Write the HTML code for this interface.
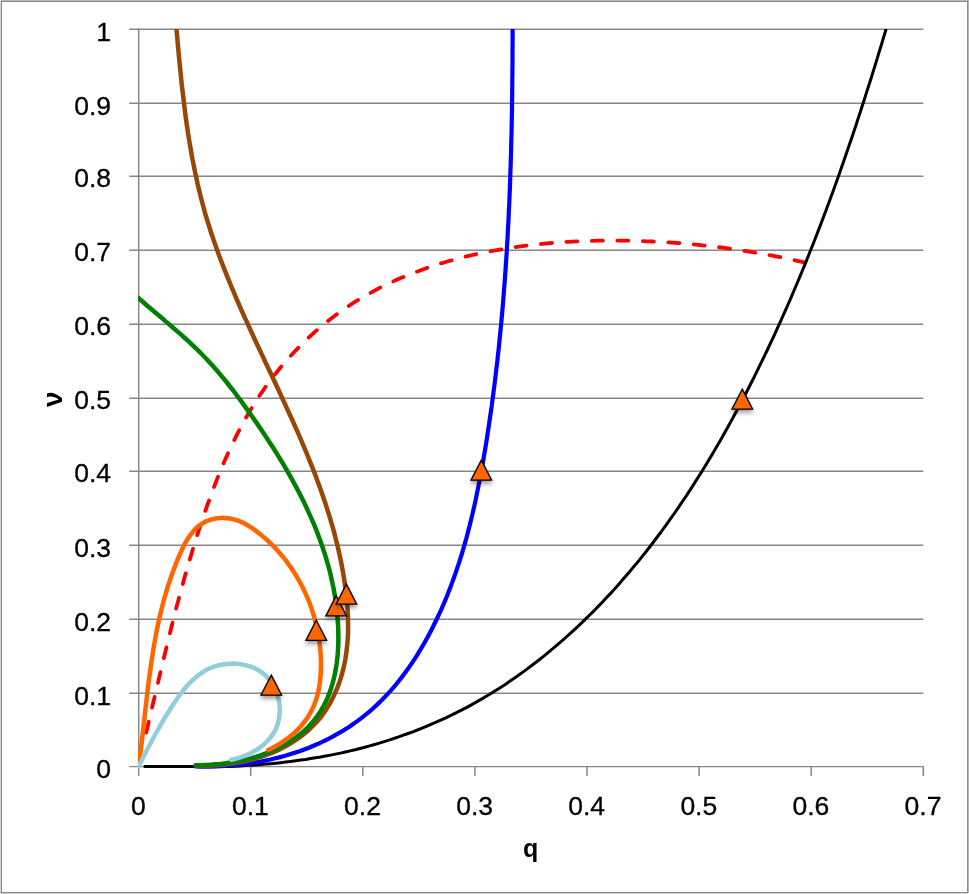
<!DOCTYPE html>
<html lang="en"><head><meta charset="utf-8"><title>q vs ν chart</title>
<style>html,body{margin:0;padding:0;background:#fff}svg{display:block}text{font-family:"Liberation Sans",sans-serif;fill:#000}</style></head><body>
<svg width="969" height="894" viewBox="0 0 969 894">
<defs><filter id="sh" x="-50%" y="-50%" width="200%" height="200%"><feGaussianBlur in="SourceAlpha" stdDeviation="2.2"/><feOffset dx="0" dy="3"/><feComponentTransfer><feFuncA type="linear" slope="0.38"/></feComponentTransfer><feMerge><feMergeNode/><feMergeNode in="SourceGraphic"/></feMerge></filter></defs>
<rect x="0" y="0" width="969" height="894" fill="#fff"/>
<g shape-rendering="crispEdges">
<rect x="1" y="0" width="967" height="1" fill="#b8b8b8"/><rect x="1" y="1" width="967" height="1" fill="#8a8a8a"/>
<rect x="0" y="1" width="1" height="892" fill="#d4d4d4"/><rect x="1" y="1" width="1" height="892" fill="#878787"/>
<rect x="967" y="1" width="1" height="892" fill="#8c8c8c"/><rect x="968" y="0" width="1" height="893" fill="#b4b4b4"/>
<rect x="1" y="892" width="967" height="1" fill="#888888"/><rect x="0" y="893" width="968" height="1" fill="#d0d0d0"/>
</g>
<line x1="129.2" x2="923.3" y1="693.25" y2="693.25" stroke="#878787" stroke-width="1.5"/>
<line x1="129.2" x2="923.3" y1="619.25" y2="619.25" stroke="#878787" stroke-width="1.5"/>
<line x1="129.2" x2="923.3" y1="545.25" y2="545.25" stroke="#878787" stroke-width="1.5"/>
<line x1="129.2" x2="923.3" y1="471.25" y2="471.25" stroke="#878787" stroke-width="1.5"/>
<line x1="129.2" x2="923.3" y1="398.25" y2="398.25" stroke="#878787" stroke-width="1.5"/>
<line x1="129.2" x2="923.3" y1="324.25" y2="324.25" stroke="#878787" stroke-width="1.5"/>
<line x1="129.2" x2="923.3" y1="250.25" y2="250.25" stroke="#878787" stroke-width="1.5"/>
<line x1="129.2" x2="923.3" y1="176.25" y2="176.25" stroke="#878787" stroke-width="1.5"/>
<line x1="129.2" x2="923.3" y1="103.25" y2="103.25" stroke="#878787" stroke-width="1.5"/>
<line x1="129.2" x2="923.3" y1="29.25" y2="29.25" stroke="#878787" stroke-width="1.5"/>
<line x1="129.2" x2="923.9" y1="766.60" y2="766.60" stroke="#878787" stroke-width="1.3"/>
<line x1="138.7" x2="138.7" y1="28.50" y2="776.10" stroke="#878787" stroke-width="1.5"/>
<line x1="250.7" x2="250.7" y1="766.60" y2="776.10" stroke="#878787" stroke-width="1.5"/>
<line x1="362.8" x2="362.8" y1="766.60" y2="776.10" stroke="#878787" stroke-width="1.5"/>
<line x1="474.9" x2="474.9" y1="766.60" y2="776.10" stroke="#878787" stroke-width="1.5"/>
<line x1="587.0" x2="587.0" y1="766.60" y2="776.10" stroke="#878787" stroke-width="1.5"/>
<line x1="699.1" x2="699.1" y1="766.60" y2="776.10" stroke="#878787" stroke-width="1.5"/>
<line x1="811.2" x2="811.2" y1="766.60" y2="776.10" stroke="#878787" stroke-width="1.5"/>
<line x1="923.3" x2="923.3" y1="766.60" y2="776.10" stroke="#878787" stroke-width="1.5"/>
<clipPath id="plot"><rect x="137.9" y="29" width="800" height="741"/></clipPath>
<g clip-path="url(#plot)">
<path d="M146.2 732.5 L147.4 727.6 L148.5 722.7 L149.7 717.8 L150.8 712.9 L152.0 708.0 L153.1 703.1 L154.3 698.2 L155.4 693.3 L156.6 688.4 L157.8 683.5 L158.9 678.6 L160.1 673.7 L161.2 668.8 L162.4 663.9 L163.6 659.0 L164.8 654.1 L166.0 649.3 L167.1 644.4 L168.3 639.5 L169.6 634.6 L170.8 629.7 L172.0 624.8 L173.2 619.9 L174.5 615.1 L175.7 610.2 L177.0 605.3 L178.3 600.5 L179.6 595.6 L180.9 590.7 L182.2 585.9 L183.6 581.0 L184.9 576.2 L186.3 571.4 L187.7 566.5 L189.1 561.7 L190.6 556.9 L192.0 552.0 L193.5 547.2 L195.0 542.4 L196.5 537.6 L198.0 532.8 L199.6 528.0 L201.1 523.3 L202.7 518.5 L204.3 513.7 L206.0 509.0 L207.7 504.2 L209.4 499.5 L211.1 494.8 L212.9 490.0 L214.7 485.3 L216.5 480.6 L218.3 476.0 L220.2 471.3 L222.2 466.7 L224.1 462.0 L226.2 457.4 L228.2 452.8 L230.3 448.3 L232.5 443.7 L234.7 439.2 L236.9 434.7 L239.2 430.2 L241.6 425.8 L244.0 421.3 L246.4 416.9 L249.0 412.6 L251.5 408.3 L254.2 404.0 L256.9 399.7 L259.6 395.5 L262.5 391.4 L265.3 387.2 L268.3 383.1 L271.3 379.1 L274.3 375.1 L277.5 371.2 L280.7 367.3 L283.9 363.4 L287.2 359.6 L290.6 355.9 L294.0 352.2 L297.5 348.6 L301.0 345.0 L304.6 341.5 L308.2 338.0 L311.9 334.6 L315.7 331.2 L319.5 327.9 L323.4 324.7 L327.3 321.5 L331.2 318.4 L335.2 315.4 L339.3 312.4 L343.4 309.5 L347.6 306.7 L351.8 303.9 L356.0 301.2 L360.3 298.6 L364.7 296.1 L369.1 293.6 L373.5 291.2 L377.9 288.8 L382.4 286.5 L386.9 284.3 L391.5 282.2 L396.1 280.1 L400.7 278.1 L405.3 276.2 L410.0 274.3 L414.7 272.5 L419.4 270.7 L424.1 269.0 L428.9 267.3 L433.7 265.8 L438.5 264.2 L443.3 262.7 L448.1 261.3 L452.9 260.0 L457.8 258.7 L462.7 257.4 L467.6 256.2 L472.5 255.0 L477.4 253.9 L482.3 252.9 L487.2 251.9 L492.2 250.9 L497.1 250.0 L502.1 249.2 L507.0 248.4 L512.0 247.6 L517.0 246.9 L522.0 246.2 L527.0 245.6 L532.0 245.0 L537.0 244.4 L542.0 243.9 L547.0 243.4 L552.0 243.0 L557.0 242.6 L562.1 242.2 L567.1 241.9 L572.1 241.6 L577.1 241.4 L582.2 241.2 L587.2 241.0 L592.2 240.9 L597.2 240.7 L602.3 240.7 L607.3 240.6 L612.3 240.6 L617.4 240.6 L622.4 240.6 L627.4 240.7 L632.5 240.8 L637.5 240.9 L642.5 241.1 L647.6 241.3 L652.6 241.5 L657.6 241.7 L662.6 242.0 L667.7 242.3 L672.7 242.7 L677.7 243.0 L682.7 243.4 L687.7 243.9 L692.7 244.3 L697.8 244.8 L702.8 245.3 L707.8 245.9 L712.8 246.5 L717.8 247.1 L722.8 247.7 L727.7 248.4 L732.7 249.1 L737.7 249.8 L742.7 250.6 L747.7 251.4 L752.6 252.2 L757.6 253.0 L762.5 253.9 L767.5 254.8 L772.4 255.7 L777.4 256.7 L782.3 257.6 L787.2 258.7 L792.2 259.7 L797.1 260.8 L802.0 261.9 L806.9 263.0" fill="none" stroke="#FF0000" stroke-width="3.8" stroke-linejoin="round" stroke-dasharray="11 14.5" stroke-linecap="round"/>
<path d="M144.8 766.5 L149.8 766.6 L154.9 766.6 L159.9 766.6 L164.9 766.6 L170.0 766.6 L175.0 766.6 L180.1 766.6 L185.1 766.6 L190.1 766.6 L195.2 766.6 L200.2 766.6 L205.3 766.6 L210.3 766.6 L215.3 766.6 L220.4 766.6 L225.4 766.6 L230.4 766.4 L235.5 766.2 L240.5 765.9 L245.5 765.6 L250.6 765.3 L255.6 765.0 L260.6 764.6 L265.6 764.1 L270.7 763.7 L275.7 763.2 L280.7 762.7 L285.7 762.1 L290.7 761.5 L295.7 760.8 L300.7 760.1 L305.7 759.4 L310.6 758.6 L315.6 757.8 L320.6 757.0 L325.5 756.1 L330.5 755.1 L335.4 754.1 L340.4 753.1 L345.3 752.0 L350.2 750.9 L355.1 749.7 L360.0 748.5 L364.9 747.2 L369.7 745.9 L374.6 744.5 L379.4 743.1 L384.2 741.6 L389.0 740.1 L393.8 738.5 L398.6 736.9 L403.4 735.2 L408.1 733.5 L412.8 731.8 L417.5 730.0 L422.2 728.1 L426.9 726.2 L431.5 724.2 L436.1 722.2 L440.7 720.2 L445.3 718.1 L449.9 715.9 L454.4 713.7 L458.9 711.4 L463.4 709.1 L467.8 706.8 L472.2 704.4 L476.6 701.9 L481.0 699.4 L485.4 696.8 L489.7 694.2 L494.0 691.6 L498.2 688.9 L502.5 686.2 L506.7 683.4 L510.8 680.6 L515.0 677.7 L519.1 674.8 L523.2 671.9 L527.3 668.9 L531.3 665.8 L535.3 662.8 L539.3 659.7 L543.2 656.6 L547.1 653.4 L551.0 650.2 L554.9 646.9 L558.7 643.7 L562.5 640.4 L566.3 637.0 L570.0 633.7 L573.7 630.3 L577.4 626.8 L581.1 623.4 L584.7 619.9 L588.3 616.3 L591.9 612.8 L595.5 609.2 L599.0 605.6 L602.5 602.0 L605.9 598.3 L609.4 594.6 L612.8 590.9 L616.2 587.2 L619.5 583.4 L622.8 579.6 L626.1 575.8 L629.4 572.0 L632.6 568.1 L635.9 564.3 L639.1 560.4 L642.2 556.4 L645.4 552.5 L648.5 548.5 L651.6 544.5 L654.6 540.5 L657.6 536.5 L660.7 532.5 L663.6 528.4 L666.6 524.3 L669.5 520.2 L672.4 516.1 L675.3 512.0 L678.2 507.8 L681.0 503.7 L683.8 499.5 L686.6 495.3 L689.4 491.1 L692.1 486.9 L694.8 482.6 L697.5 478.4 L700.2 474.1 L702.9 469.8 L705.5 465.5 L708.1 461.2 L710.7 456.9 L713.3 452.5 L715.8 448.2 L718.4 443.8 L720.9 439.5 L723.4 435.1 L725.8 430.7 L728.3 426.3 L730.7 421.9 L733.1 417.5 L735.5 413.0 L737.9 408.6 L740.3 404.1 L742.6 399.7 L744.9 395.2 L747.2 390.7 L749.5 386.2 L751.8 381.7 L754.1 377.2 L756.3 372.7 L758.5 368.2 L760.7 363.7 L762.9 359.1 L765.1 354.6 L767.3 350.0 L769.4 345.5 L771.6 340.9 L773.7 336.3 L775.8 331.8 L777.9 327.2 L780.0 322.6 L782.0 318.0 L784.1 313.4 L786.1 308.8 L788.2 304.2 L790.2 299.6 L792.2 294.9 L794.1 290.3 L796.1 285.7 L798.1 281.0 L800.0 276.4 L801.9 271.7 L803.9 267.0 L805.8 262.4 L807.6 257.7 L809.5 253.0 L811.4 248.3 L813.2 243.7 L815.1 239.0 L816.9 234.3 L818.7 229.6 L820.5 224.9 L822.3 220.2 L824.1 215.4 L825.9 210.7 L827.6 206.0 L829.4 201.3 L831.1 196.6 L832.9 191.8 L834.6 187.1 L836.3 182.3 L838.0 177.6 L839.7 172.8 L841.3 168.1 L843.0 163.3 L844.6 158.6 L846.3 153.8 L847.9 149.0 L849.5 144.3 L851.2 139.5 L852.8 134.7 L854.4 129.9 L856.0 125.2 L857.5 120.4 L859.1 115.6 L860.7 110.8 L862.2 106.0 L863.8 101.2 L865.3 96.4 L866.8 91.6 L868.4 86.8 L869.9 82.0 L871.4 77.2 L872.9 72.4 L874.4 67.6 L875.9 62.8 L877.4 57.9 L878.8 53.1 L880.3 48.3 L881.8 43.5 L883.2 38.7 L884.7 33.8 L886.1 29.0" fill="none" stroke="#000000" stroke-width="3" stroke-linejoin="round" stroke-linecap="round"/>
<path d="M512.6 29.0 L512.6 34.0 L512.6 39.1 L512.6 44.1 L512.5 49.1 L512.5 54.2 L512.5 59.2 L512.5 64.2 L512.4 69.2 L512.4 74.3 L512.3 79.3 L512.3 84.3 L512.2 89.4 L512.2 94.4 L512.1 99.4 L512.0 104.5 L512.0 109.5 L511.9 114.5 L511.8 119.6 L511.7 124.6 L511.6 129.6 L511.5 134.6 L511.3 139.7 L511.2 144.7 L511.1 149.7 L511.0 154.8 L510.8 159.8 L510.7 164.8 L510.5 169.9 L510.3 174.9 L510.2 179.9 L510.0 184.9 L509.8 190.0 L509.6 195.0 L509.4 200.0 L509.2 205.0 L508.9 210.1 L508.7 215.1 L508.5 220.1 L508.2 225.1 L507.9 230.2 L507.7 235.2 L507.4 240.2 L507.1 245.2 L506.8 250.3 L506.5 255.3 L506.2 260.3 L505.8 265.3 L505.5 270.3 L505.1 275.4 L504.8 280.4 L504.4 285.4 L504.0 290.4 L503.6 295.4 L503.2 300.4 L502.8 305.5 L502.4 310.5 L501.9 315.5 L501.5 320.5 L501.0 325.5 L500.5 330.5 L500.0 335.5 L499.5 340.5 L499.0 345.5 L498.5 350.5 L497.9 355.5 L497.4 360.5 L496.8 365.5 L496.2 370.5 L495.6 375.5 L495.0 380.5 L494.4 385.5 L493.7 390.5 L493.1 395.5 L492.4 400.5 L491.8 405.5 L491.1 410.4 L490.3 415.4 L489.6 420.4 L488.9 425.4 L488.1 430.4 L487.4 435.3 L486.6 440.3 L485.8 445.3 L485.0 450.2 L484.1 455.2 L483.3 460.2 L482.4 465.1 L481.5 470.1 L480.6 475.0 L479.7 480.0 L478.7 484.9 L477.7 489.8 L476.7 494.7 L475.7 499.7 L474.6 504.6 L473.5 509.5 L472.4 514.4 L471.2 519.3 L470.0 524.2 L468.7 529.1 L467.5 533.9 L466.2 538.8 L464.8 543.6 L463.4 548.5 L462.0 553.3 L460.5 558.1 L459.0 562.9 L457.4 567.7 L455.8 572.4 L454.1 577.2 L452.4 581.9 L450.7 586.6 L448.8 591.3 L447.0 596.0 L445.1 600.6 L443.1 605.3 L441.1 609.9 L439.0 614.4 L436.8 619.0 L434.6 623.5 L432.4 628.0 L430.1 632.5 L427.7 636.9 L425.3 641.3 L422.8 645.7 L420.2 650.0 L417.6 654.3 L414.9 658.6 L412.1 662.8 L409.3 666.9 L406.4 671.0 L403.4 675.1 L400.3 679.1 L397.2 683.0 L394.0 686.9 L390.7 690.7 L387.3 694.4 L383.8 698.0 L380.3 701.6 L376.6 705.1 L372.9 708.5 L369.1 711.8 L365.2 715.0 L361.3 718.1 L357.3 721.1 L353.2 724.0 L349.0 726.9 L344.8 729.6 L340.5 732.2 L336.1 734.7 L331.7 737.2 L327.3 739.5 L322.7 741.7 L318.2 743.8 L313.5 745.8 L308.9 747.7 L304.2 749.5 L299.5 751.2 L294.7 752.8 L289.9 754.3 L285.1 755.8 L280.2 757.1 L275.3 758.3 L270.4 759.5 L265.5 760.5 L260.6 761.5 L255.6 762.4 L250.7 763.2 L245.7 763.9 L240.7 764.5 L235.7 765.1 L230.7 765.5 L225.7 765.9 L220.6 766.2 L215.6 766.4 L210.6 766.6 L205.6 766.6 L200.5 766.6 L195.5 766.5" fill="none" stroke="#0000FF" stroke-width="4.2" stroke-linejoin="round" stroke-linecap="round"/>
<path d="M176.5 29.0 L176.9 34.0 L177.4 39.0 L177.8 44.0 L178.3 49.1 L178.7 54.1 L179.2 59.1 L179.7 64.1 L180.2 69.1 L180.7 74.1 L181.2 79.1 L181.7 84.1 L182.3 89.1 L182.9 94.1 L183.5 99.1 L184.1 104.1 L184.7 109.1 L185.3 114.1 L186.0 119.1 L186.7 124.1 L187.5 129.1 L188.2 134.1 L189.0 139.0 L189.8 144.0 L190.7 149.0 L191.5 153.9 L192.4 158.9 L193.4 163.8 L194.4 168.8 L195.4 173.7 L196.5 178.6 L197.5 183.5 L198.7 188.4 L199.9 193.3 L201.1 198.2 L202.4 203.1 L203.7 207.9 L205.0 212.8 L206.4 217.6 L207.9 222.4 L209.4 227.2 L210.9 232.0 L212.5 236.8 L214.1 241.6 L215.8 246.3 L217.5 251.1 L219.2 255.8 L221.0 260.5 L222.8 265.2 L224.6 269.9 L226.5 274.6 L228.4 279.3 L230.3 283.9 L232.2 288.6 L234.2 293.2 L236.1 297.8 L238.1 302.5 L240.1 307.1 L242.2 311.7 L244.2 316.3 L246.3 320.9 L248.4 325.5 L250.5 330.0 L252.6 334.6 L254.7 339.2 L256.8 343.7 L258.9 348.3 L261.1 352.9 L263.2 357.4 L265.3 362.0 L267.5 366.5 L269.6 371.1 L271.8 375.6 L273.9 380.2 L276.1 384.8 L278.2 389.3 L280.3 393.9 L282.4 398.5 L284.5 403.0 L286.6 407.6 L288.7 412.2 L290.8 416.8 L292.9 421.4 L294.9 426.0 L297.0 430.6 L299.0 435.2 L301.0 439.8 L302.9 444.4 L304.9 449.1 L306.8 453.7 L308.7 458.4 L310.6 463.1 L312.5 467.7 L314.3 472.4 L316.1 477.1 L317.8 481.9 L319.6 486.6 L321.2 491.3 L322.9 496.1 L324.5 500.8 L326.1 505.6 L327.6 510.4 L329.1 515.2 L330.6 520.0 L332.0 524.9 L333.4 529.7 L334.7 534.6 L335.9 539.5 L337.2 544.3 L338.3 549.2 L339.4 554.2 L340.5 559.1 L341.5 564.0 L342.4 569.0 L343.3 573.9 L344.1 578.9 L344.9 583.9 L345.5 588.9 L346.2 593.8 L346.7 598.9 L347.2 603.9 L347.6 608.9 L347.8 613.9 L348.0 618.9 L348.1 624.0 L348.1 629.0 L348.0 634.0 L347.7 639.1 L347.3 644.1 L346.8 649.1 L346.1 654.1 L345.3 659.1 L344.4 664.0 L343.3 668.9 L342.0 673.8 L340.6 678.6 L339.0 683.4 L337.2 688.1 L335.2 692.7 L333.1 697.3 L330.8 701.8 L328.3 706.1 L325.6 710.4 L322.7 714.5 L319.6 718.5 L316.4 722.3 L312.9 726.0 L309.3 729.5 L305.5 732.8 L301.6 735.9 L297.5 738.9 L293.3 741.7 L289.0 744.4 L284.7 746.8 L280.2 749.1 L275.6 751.3 L271.0 753.2 L266.3 755.0 L261.5 756.7 L256.7 758.2 L251.9 759.5 L247.0 760.7 L242.0 761.7 L237.1 762.7 L232.1 763.5 L227.1 764.2 L222.1 764.7 L217.1 765.2 L212.1 765.5 L207.1 765.8 L202.0 765.9 L197.0 766.0" fill="none" stroke="#974806" stroke-width="4.5" stroke-linejoin="round" stroke-linecap="round"/>
<path d="M138.4 298.0 L142.2 301.3 L146.1 304.7 L149.9 308.0 L153.8 311.2 L157.7 314.5 L161.6 317.8 L165.4 321.1 L169.3 324.4 L173.1 327.7 L177.0 331.1 L180.8 334.4 L184.6 337.8 L188.3 341.2 L192.0 344.7 L195.7 348.2 L199.4 351.7 L202.9 355.3 L206.5 359.0 L209.9 362.7 L213.4 366.5 L216.7 370.3 L220.0 374.2 L223.3 378.1 L226.5 382.0 L229.6 386.0 L232.8 390.0 L235.8 394.0 L238.9 398.1 L241.9 402.2 L244.9 406.3 L247.8 410.4 L250.8 414.6 L253.7 418.7 L256.6 422.9 L259.5 427.1 L262.3 431.3 L265.1 435.5 L267.9 439.8 L270.7 444.0 L273.5 448.3 L276.2 452.6 L278.8 456.9 L281.5 461.2 L284.1 465.6 L286.7 470.0 L289.2 474.4 L291.7 478.8 L294.1 483.3 L296.5 487.7 L298.9 492.2 L301.2 496.8 L303.5 501.3 L305.7 505.9 L307.8 510.5 L309.9 515.1 L312.0 519.8 L314.0 524.4 L315.9 529.2 L317.8 533.9 L319.5 538.6 L321.3 543.4 L322.9 548.2 L324.5 553.0 L326.0 557.9 L327.4 562.8 L328.8 567.7 L330.1 572.6 L331.2 577.5 L332.3 582.5 L333.4 587.5 L334.3 592.5 L335.1 597.5 L335.9 602.5 L336.5 607.5 L337.1 612.6 L337.5 617.7 L337.9 622.7 L338.2 627.8 L338.3 632.9 L338.4 638.0 L338.3 643.0 L338.1 648.1 L337.8 653.2 L337.3 658.2 L336.7 663.3 L335.9 668.3 L335.0 673.3 L333.9 678.3 L332.6 683.2 L331.2 688.0 L329.5 692.8 L327.6 697.6 L325.5 702.2 L323.2 706.7 L320.6 711.1 L317.9 715.3 L314.8 719.4 L311.6 723.4 L308.1 727.1 L304.5 730.6 L300.6 733.9 L296.6 737.0 L292.4 739.9 L288.1 742.6 L283.7 745.1 L279.2 747.5 L274.7 749.7 L270.0 751.8 L265.3 753.6 L260.5 755.4 L255.7 757.0 L250.8 758.4 L245.9 759.6 L240.9 760.8 L235.9 761.7 L230.9 762.6 L225.9 763.3 L220.9 763.9 L215.8 764.3 L210.7 764.7 L205.7 765.0 L200.6 765.2 L195.5 765.3" fill="none" stroke="#008000" stroke-width="4.5" stroke-linejoin="round" stroke-linecap="round"/>
<path d="M138.6 766.5 L139.3 761.5 L139.9 756.4 L140.6 751.4 L141.2 746.3 L141.8 741.3 L142.4 736.2 L143.0 731.2 L143.5 726.1 L144.1 721.1 L144.7 716.0 L145.2 711.0 L145.8 705.9 L146.4 700.9 L147.0 695.8 L147.6 690.8 L148.2 685.7 L148.8 680.7 L149.5 675.6 L150.2 670.6 L150.9 665.5 L151.6 660.5 L152.4 655.5 L153.2 650.5 L154.0 645.5 L154.9 640.4 L155.8 635.4 L156.8 630.5 L157.8 625.5 L158.9 620.5 L160.0 615.5 L161.2 610.6 L162.4 605.7 L163.7 600.7 L165.1 595.8 L166.5 591.0 L168.0 586.1 L169.6 581.3 L171.2 576.4 L172.9 571.7 L174.7 566.9 L176.5 562.2 L178.5 557.4 L180.5 552.8 L182.6 548.2 L184.9 543.6 L187.5 539.2 L190.3 535.0 L193.5 531.1 L197.0 527.4 L201.0 524.3 L205.4 521.7 L210.1 519.8 L215.1 518.6 L220.1 518.1 L225.2 518.1 L230.3 518.6 L235.2 519.7 L240.0 521.4 L244.6 523.5 L249.0 526.1 L253.2 528.9 L257.3 531.9 L261.3 535.1 L265.2 538.4 L269.0 541.8 L272.6 545.4 L276.1 549.0 L279.5 552.8 L282.8 556.7 L286.0 560.7 L289.0 564.8 L291.9 568.9 L294.7 573.2 L297.3 577.6 L299.8 582.0 L302.2 586.5 L304.4 591.1 L306.5 595.7 L308.5 600.4 L310.3 605.1 L312.0 609.9 L313.5 614.8 L314.9 619.7 L316.2 624.6 L317.3 629.5 L318.3 634.5 L319.1 639.5 L319.8 644.6 L320.3 649.6 L320.7 654.7 L320.9 659.8 L321.0 664.9 L320.9 670.0 L320.6 675.0 L320.2 680.1 L319.5 685.1 L318.6 690.1 L317.4 695.1 L316.0 700.0 L314.2 704.8 L312.2 709.4 L309.8 713.9 L307.1 718.2 L304.1 722.3 L300.9 726.2 L297.4 729.9 L293.7 733.4 L289.8 736.6 L285.7 739.7 L281.5 742.6 L277.2 745.3 L272.8 747.7 L268.2 750.0" fill="none" stroke="#FF6600" stroke-width="4.5" stroke-linejoin="round" stroke-linecap="round"/>
<path d="M138.6 766.5 L140.9 761.9 L143.2 757.4 L145.5 752.8 L147.9 748.3 L150.3 743.7 L152.7 739.2 L155.1 734.7 L157.6 730.3 L160.1 725.8 L162.7 721.4 L165.3 717.0 L168.0 712.7 L170.7 708.3 L173.5 704.0 L176.3 699.8 L179.3 695.6 L182.4 691.5 L185.6 687.5 L189.0 683.7 L192.6 680.1 L196.4 676.7 L200.5 673.6 L204.8 670.8 L209.3 668.5 L214.1 666.6 L219.0 665.2 L224.0 664.2 L229.1 663.7 L234.2 663.6 L239.3 664.0 L244.3 664.9 L249.3 666.2 L254.1 668.0 L258.6 670.3 L262.8 673.2 L266.7 676.6 L270.0 680.4 L272.9 684.7 L275.3 689.2 L277.1 693.9 L278.5 698.9 L279.4 703.9 L279.8 709.0 L279.6 714.1 L278.9 719.2 L277.7 724.1 L275.9 728.9 L273.4 733.4 L270.5 737.6 L267.1 741.4 L263.4 744.9 L259.3 748.0 L255.0 750.8 L250.5 753.3 L245.9 755.4 L241.1 757.2 L236.2 758.6 L231.2 759.7" fill="none" stroke="#92CDDC" stroke-width="4.5" stroke-linejoin="round" stroke-linecap="round"/>
</g>
<path d="M271.3 675.1 L281.6 695.2 L261.0 695.2 Z" fill="#FF6600" stroke="#000" stroke-width="1.3" stroke-linejoin="miter" filter="url(#sh)"/>
<path d="M316.3 620.3 L326.6 640.4 L306.0 640.4 Z" fill="#FF6600" stroke="#000" stroke-width="1.3" stroke-linejoin="miter" filter="url(#sh)"/>
<path d="M336.2 595.8 L346.5 615.9 L325.9 615.9 Z" fill="#FF6600" stroke="#000" stroke-width="1.3" stroke-linejoin="miter" filter="url(#sh)"/>
<path d="M346.4 584.1 L356.7 604.2 L336.1 604.2 Z" fill="#FF6600" stroke="#000" stroke-width="1.3" stroke-linejoin="miter" filter="url(#sh)"/>
<path d="M481.3 460.1 L491.6 480.2 L471.0 480.2 Z" fill="#FF6600" stroke="#000" stroke-width="1.3" stroke-linejoin="miter" filter="url(#sh)"/>
<path d="M742.3 389.1 L752.6 409.2 L732.0 409.2 Z" fill="#FF6600" stroke="#000" stroke-width="1.3" stroke-linejoin="miter" filter="url(#sh)"/>
<text x="111" y="778.0" font-size="26.5" text-anchor="end" stroke="#000" stroke-width="0.3">0</text>
<text x="111" y="704.5" font-size="26.5" text-anchor="end" stroke="#000" stroke-width="0.3">0.1</text>
<text x="111" y="630.5" font-size="26.5" text-anchor="end" stroke="#000" stroke-width="0.3">0.2</text>
<text x="111" y="556.5" font-size="26.5" text-anchor="end" stroke="#000" stroke-width="0.3">0.3</text>
<text x="111" y="482.4" font-size="26.5" text-anchor="end" stroke="#000" stroke-width="0.3">0.4</text>
<text x="111" y="409.4" font-size="26.5" text-anchor="end" stroke="#000" stroke-width="0.3">0.5</text>
<text x="111" y="335.4" font-size="26.5" text-anchor="end" stroke="#000" stroke-width="0.3">0.6</text>
<text x="111" y="261.4" font-size="26.5" text-anchor="end" stroke="#000" stroke-width="0.3">0.7</text>
<text x="111" y="187.4" font-size="26.5" text-anchor="end" stroke="#000" stroke-width="0.3">0.8</text>
<text x="111" y="114.5" font-size="26.5" text-anchor="end" stroke="#000" stroke-width="0.3">0.9</text>
<text x="111" y="40.5" font-size="26.5" text-anchor="end" stroke="#000" stroke-width="0.3">1</text>
<text x="138.3" y="815.2" font-size="26.5" text-anchor="middle" stroke="#000" stroke-width="0.3">0</text>
<text x="250.4" y="815.2" font-size="26.5" text-anchor="middle" stroke="#000" stroke-width="0.3">0.1</text>
<text x="362.5" y="815.2" font-size="26.5" text-anchor="middle" stroke="#000" stroke-width="0.3">0.2</text>
<text x="474.6" y="815.2" font-size="26.5" text-anchor="middle" stroke="#000" stroke-width="0.3">0.3</text>
<text x="586.7" y="815.2" font-size="26.5" text-anchor="middle" stroke="#000" stroke-width="0.3">0.4</text>
<text x="698.8" y="815.2" font-size="26.5" text-anchor="middle" stroke="#000" stroke-width="0.3">0.5</text>
<text x="810.9" y="815.2" font-size="26.5" text-anchor="middle" stroke="#000" stroke-width="0.3">0.6</text>
<text x="923.0" y="815.2" font-size="26.5" text-anchor="middle" stroke="#000" stroke-width="0.3">0.7</text>
<text x="530.7" y="856.8" font-size="25" font-weight="bold" text-anchor="middle">q</text>
<text transform="translate(61.5 399.3) rotate(-90)" font-size="28" font-weight="bold" text-anchor="middle">ν</text>
</svg></body></html>
